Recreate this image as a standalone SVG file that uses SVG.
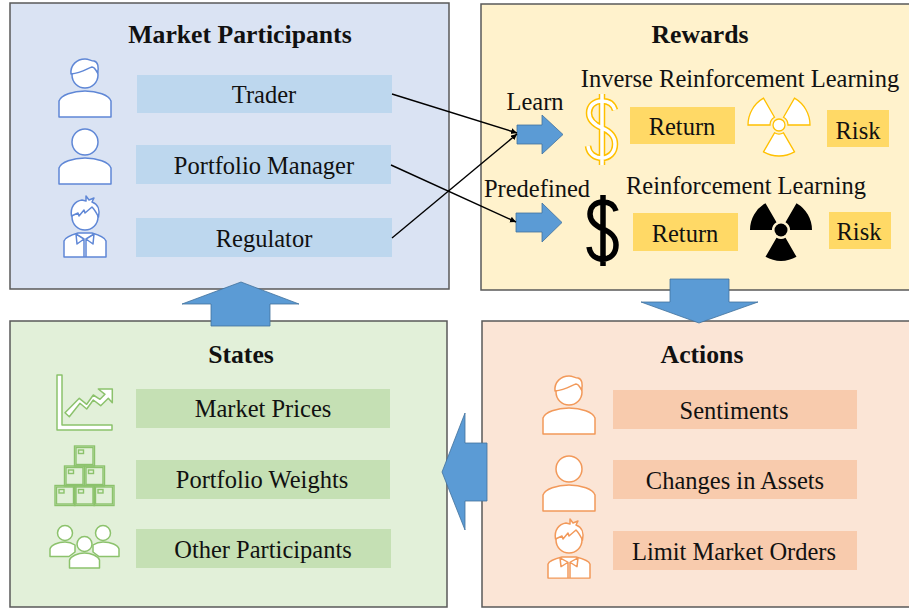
<svg xmlns="http://www.w3.org/2000/svg" width="909" height="611" viewBox="0 0 909 611">
<style>
text{font-family:"Liberation Serif","Times New Roman",serif;font-size:24.500px;fill:#111;text-anchor:middle;transform:translateY(1px)}
.h{font-weight:bold;font-size:25.700px}
.p{stroke:#595959;stroke-width:1.5}
.bl{fill:#bdd7ee}.gr{fill:#c5e0b4}.or{fill:#f8cbad}.ye{fill:#ffd966}
.ar{fill:#5b9bd5;stroke:#41719c;stroke-width:.8}
.ib{stroke:#5f87d6;fill:#fff;stroke-width:1.5;stroke-linejoin:round}
.ig{stroke:#8cc26c;fill:#fff;stroke-width:1.5;stroke-linejoin:round}
.io{stroke:#f2995a;fill:#fff;stroke-width:1.5;stroke-linejoin:round}
.c{stroke:#000;stroke-width:1.4;fill:none;marker-end:url(#m)}
</style>
<defs>
<marker id="m" markerWidth="7" markerHeight="7" refX="6" refY="3" orient="auto" markerUnits="userSpaceOnUse"><path d="M0,0L6,3L0,6Z" fill="#000"/></marker>
<g id="body"><path d="M-26,26V10C-24,4-12,0 0,0S24,4 26,10V26Z"/></g>
<g id="hairA"><circle r="13"/><path d="M-14,-1C-15,-10-8,-16 0,-16C4,-16 6,-14 9,-14C13,-13 14,-8 12.500,-2C11,-5 9,-8 7,-8C3,-7-3,-2-14,-1Z"/></g>
<g id="hairB"><circle r="13"/><path d="M-13.500,-1C-15,-10-10,-16-3,-17L1,-16L1,-21L4,-17L9,-19L7,-15C13,-13 15,-7 13.500,0C11,-5 9,-8 7,-10L0,-4L-1,-7L-6,-1L-7,-4Z"/></g>
<g id="shirt"><path d="M-21,24V8C-20,4-14,2-7,0H7C14,2 20,4 21,8V24Z"/><path d="M-9,1L-1,6L-8,11ZM9,1L1,6L8,11ZM-1,6V24M1,6V24"/></g>
<g id="blade"><path d="M4.500,7.800L15.500,26.850A31,31 0 0 1-15.500,26.850L-4.500,7.800A9,9 0 0 0 4.500,7.800Z"/></g>
<g id="rad"><use href="#blade"/><use href="#blade" transform="rotate(120)"/><use href="#blade" transform="rotate(240)"/></g>
<path id="dollar" d="M13,-20C11,-27 5,-29 0,-29C-8,-29-13,-24-13,-17C-13,-9-7,-5 0,-2C7,1 13,5 13,14C13,23 7,28 0,28C-7,28-13,24-14,16M0,-36V35"/>
<g id="box"><rect width="20" height="20"/><rect x="1.500" y="1.500" width="17" height="17"/><rect x="4" y="4" width="5" height="3.500"/></g>
</defs>

<g id="market-participants">
<rect class="p" x="10" y="3" width="439" height="286" fill="#dae3f3"/>
<text class="h" x="240" y="42">Market Participants</text>
<g id="trader"><rect class="bl" x="137" y="75" width="255" height="38"/><text x="264" y="102">Trader</text>
<g class="ib"><use href="#hairA" transform="translate(85,75)"/><use href="#body" transform="translate(85,91)"/></g></g>
<g id="portfolio-manager"><rect class="bl" x="136" y="145" width="255" height="39"/><text x="264" y="173">Portfolio Manager</text>
<g class="ib"><circle cx="85" cy="142" r="13"/><use href="#body" transform="translate(85,158)"/></g></g>
<g id="regulator"><rect class="bl" x="136" y="218" width="256" height="39"/><text x="264" y="246">Regulator</text>
<g class="ib"><use href="#hairB" transform="translate(85,217)"/><use href="#shirt" transform="translate(85,233)"/></g></g>
</g>

<g id="rewards">
<rect class="p" x="481" y="4" width="430" height="286" fill="#fff2cc"/>
<text class="h" x="700" y="42">Rewards</text>
<text x="535" y="109">Learn</text>
<text x="740" y="86">Inverse Reinforcement Learning</text>
<text x="537" y="196">Predefined</text>
<text x="746" y="193">Reinforcement Learning</text>
<g id="learned-return"><use href="#dollar" transform="translate(602,130)" fill="none" stroke="#ffc000" stroke-width="6.500"/><use href="#dollar" transform="translate(602,130)" fill="none" stroke="#fff" stroke-width="3.500"/>
<rect class="ye" x="630" y="107" width="105" height="37"/><text x="682" y="134">Return</text></g>
<g id="learned-risk"><use href="#rad" transform="translate(779,125)" fill="#fff" stroke="#ffc000" stroke-width="1.300"/><circle cx="779" cy="125" r="6" fill="#fff" stroke="#ffc000" stroke-width="1.300"/>
<rect class="ye" x="827" y="110" width="62" height="37"/><text x="858" y="138">Risk</text></g>
<g id="predefined-return"><use href="#dollar" transform="translate(603,231)" fill="none" stroke="#000" stroke-width="5.500"/>
<rect class="ye" x="633" y="213" width="105" height="38"/><text x="685" y="241">Return</text></g>
<g id="predefined-risk"><use href="#rad" transform="translate(781,230)" fill="#000"/><circle cx="781" cy="230" r="6.500" fill="#000"/>
<rect class="ye" x="829" y="212" width="62" height="37"/><text x="859" y="239">Risk</text></g>
<path id="learn-arrow" class="ar" d="M517,125H542V115L563,134.500L542,154V144H517Z"/>
<path id="predefined-arrow" class="ar" d="M516,213H542V203L562,222.500L542,242V232H516Z"/>
</g>

<g id="states">
<rect class="p" x="10" y="321" width="437" height="286" fill="#e2f0d9"/>
<text class="h" x="241" y="362">States</text>
<g id="market-prices"><rect class="gr" x="136" y="389" width="254" height="39"/><text x="263" y="416">Market Prices</text>
<g class="ig"><path d="M57,375H62V425H112V430H57Z"/><path d="M65,412.700L79.300,398.300L86.700,404.300L93.300,395L100,399.300L105,394.300L98.300,389H112.300V402.700L108.300,398.300L100.700,405.700L93.300,400L86.700,409L80,403.300L69.300,416.700Z"/></g></g>
<g id="portfolio-weights"><rect class="gr" x="136" y="460" width="254" height="39"/><text x="262" y="487">Portfolio Weights</text>
<g stroke="#8cc26c" fill="none" stroke-width="1.400"><use href="#box" x="74.500" y="446"/><use href="#box" x="64.500" y="466"/><use href="#box" x="84.500" y="466"/><use href="#box" x="55" y="485.500"/><use href="#box" x="74.500" y="485.500"/><use href="#box" x="94" y="485.500"/></g></g>
<g id="other-participants"><rect class="gr" x="136" y="529" width="255" height="39"/><text x="263" y="557">Other Participants</text>
<g class="ig"><circle cx="65" cy="533" r="7.500"/><path d="M50,556.500V549C51,545 58,542 65,542C69,542 72,543 75,545V552L69,556.500Z"/><circle cx="103" cy="533" r="7.500"/><path d="M119,556.500V549C118,545 111,542 103,542C99,542 96,543 93,545V552L99,556.500Z"/><circle cx="84.500" cy="544" r="7.500"/><path d="M69.500,568V560C71,556 78,553 84.500,553C91,553 98,556 99.500,560V568Z"/></g></g>
</g>

<g id="actions">
<rect class="p" x="482" y="321" width="429" height="286" fill="#fbe5d6"/>
<text class="h" x="702" y="362">Actions</text>
<g id="sentiments"><rect class="or" x="613" y="390" width="244" height="39"/><text x="734" y="418">Sentiments</text>
<g class="io"><use href="#hairA" transform="translate(569,392)"/><use href="#body" transform="translate(569,408)"/></g></g>
<g id="changes-in-assets"><rect class="or" x="613" y="460" width="244" height="39"/><text x="735" y="488">Changes in Assets</text>
<g class="io"><circle cx="569" cy="469" r="13"/><use href="#body" transform="translate(569,485)"/></g></g>
<g id="limit-market-orders"><rect class="or" x="613" y="531" width="244" height="39"/><text x="734" y="559">Limit Market Orders</text>
<g class="io"><use href="#hairB" transform="translate(569,540)"/><use href="#shirt" transform="translate(569,557) scale(1,.88)"/></g></g>
</g>

<g id="connectors">
<path class="c" d="M392,94L517,133"/>
<path class="c" d="M392,238L517,134"/>
<path class="c" d="M391,165L516,222"/>
<path class="ar" d="M241,282L299,304H270V326H211V304H182Z"/>
<path class="ar" d="M670,279H729V302H758L699,323L641,302H670Z"/>
<path class="ar" d="M442,472L465,413V443H487V501H465V530Z"/>
</g>
</svg>
